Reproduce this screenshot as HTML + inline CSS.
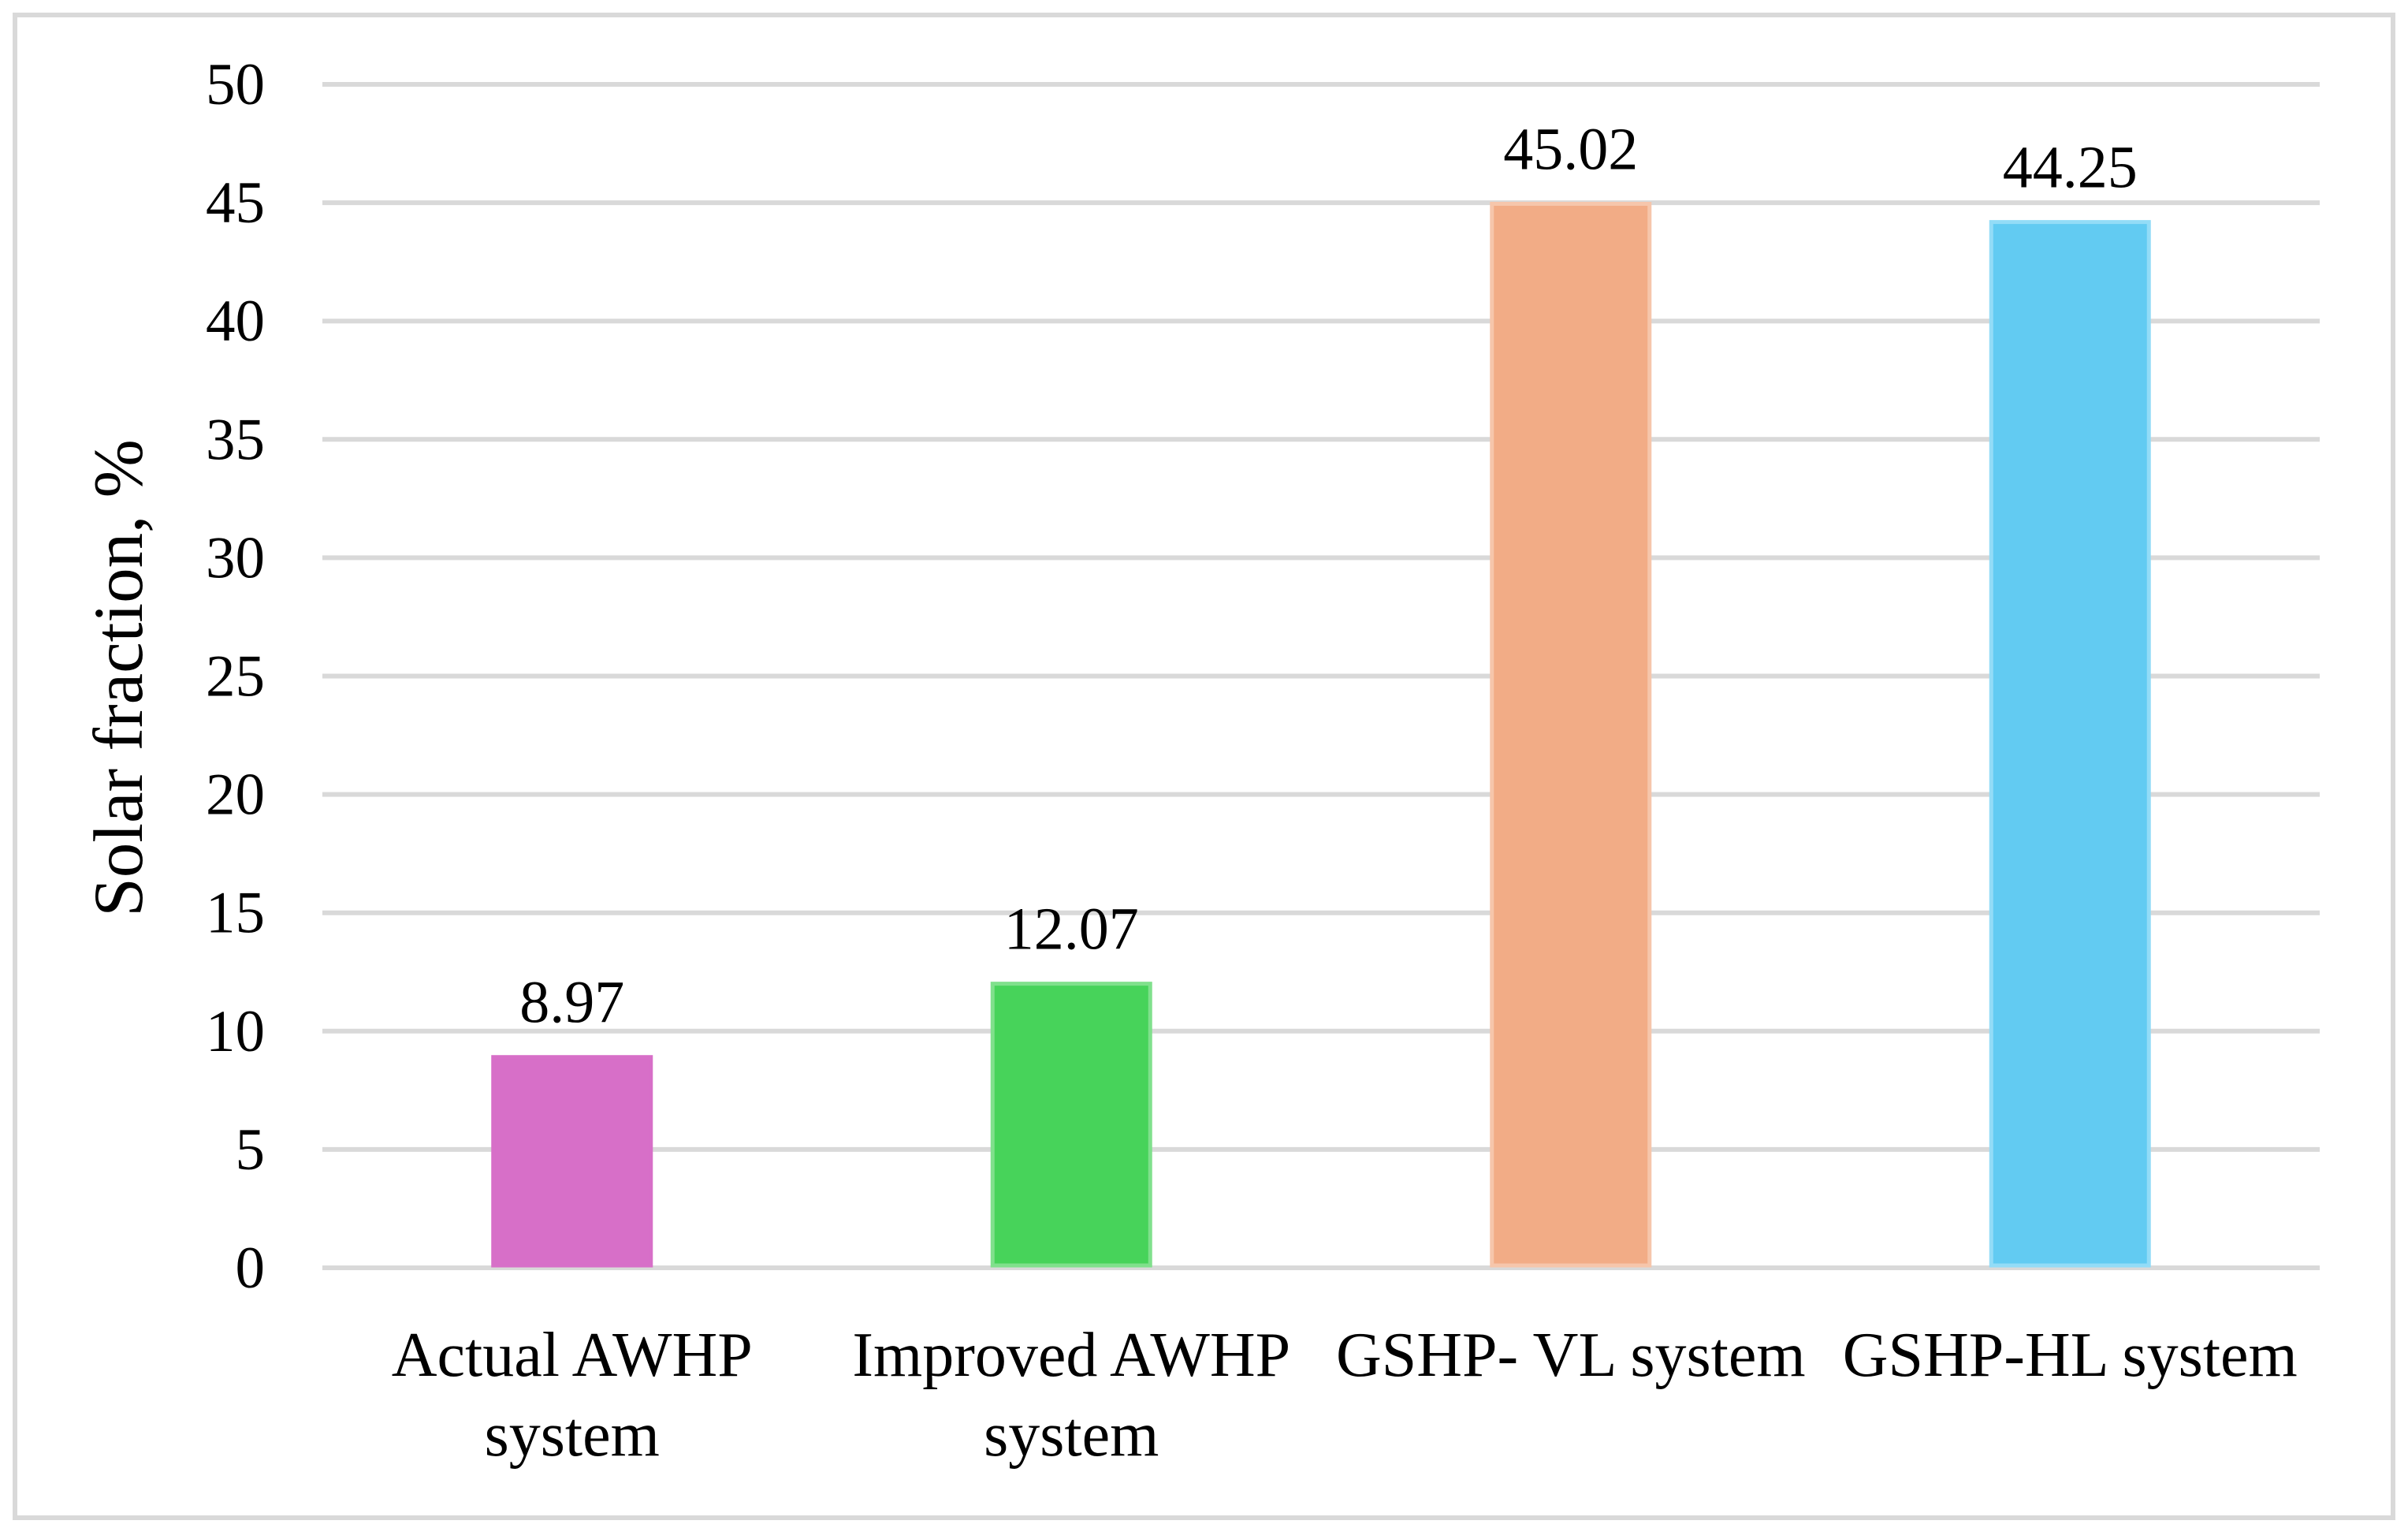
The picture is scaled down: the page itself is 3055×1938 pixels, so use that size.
<!DOCTYPE html>
<html><head><meta charset="utf-8"><style>
html,body{margin:0;padding:0;background:#fff;}
svg{display:block;font-family:"Liberation Serif",serif;}
</style></head><body>
<svg id="chart" width="3055" height="1938" viewBox="0 0 3055 1938" xmlns="http://www.w3.org/2000/svg">
<rect x="19" y="19" width="3017" height="1906" fill="#fff" stroke="#d9d9d9" stroke-width="6"/>
<g id="grid"></g>
<g id="bars"></g>
<g id="labels"></g>
<text transform="translate(180,860) rotate(-90)" text-anchor="middle" font-size="89" fill="#000">Solar fraction, %</text>
</svg>
<script>
const categories = [["Actual AWHP","system"],["Improved AWHP","system"],["GSHP- VL system"],["GSHP-HL system"]];
const values = [8.97, 12.07, 45.02, 44.25];
const valueLabels = ["8.97","12.07","45.02","44.25"];
const yTicks = [0,5,10,15,20,25,30,35,40,45,50];
const fills = ["#d76fc8","#47d35a","#f2ac86","#62cbf2"];
const strokes = ["#d76fc8","#80e08c","#f6c6ab","#93dcf7"];

const NS = "http://www.w3.org/2000/svg";
const plotL = 409, plotR = 2943, y0 = 1608, y50 = 107;
const yScale = v => y0 - (v / 50) * (y0 - y50);
const band = (plotR - plotL) / categories.length;
const xCenter = i => plotL + band * (i + 0.5);
const barW = 204;

function mk(tag, attrs, parent) {
  const e = document.createElementNS(NS, tag);
  for (const k in attrs) e.setAttribute(k, attrs[k]);
  parent.appendChild(e);
  return e;
}
const grid = document.getElementById('grid');
const bars = document.getElementById('bars');
const labels = document.getElementById('labels');

yTicks.forEach(t => {
  const l = mk('line', {x1: plotL, x2: plotR, y1: yScale(t), y2: yScale(t), stroke: '#d9d9d9', 'stroke-width': 6}, grid);
  
  
  const tx = mk('text', {x: 336, y: yScale(t) + 25, 'text-anchor': 'end', 'font-size': 75, fill: '#000'}, labels);
  tx.textContent = t;
  
  
});

values.forEach((v, i) => {
  const cx = xCenter(i);
  const top = yScale(v);
  const r = mk('rect', {x: cx - barW / 2 + 2, y: top + 2, width: barW - 4, height: y0 - top - 5, fill: fills[i], stroke: strokes[i], 'stroke-width': 5}, bars);
  
  
  const vl = mk('text', {x: cx, y: top - 42, 'text-anchor': 'middle', 'font-size': 76, fill: '#000'}, labels);
  vl.textContent = valueLabels[i];
  
  
  categories[i].forEach((line, j) => {
    const cl = mk('text', {x: cx, y: 1745 + j * 101, 'text-anchor': 'middle', 'font-size': 80, fill: '#000'}, labels);
    cl.textContent = line;
    
    
  });
});
</script>
</body></html>
